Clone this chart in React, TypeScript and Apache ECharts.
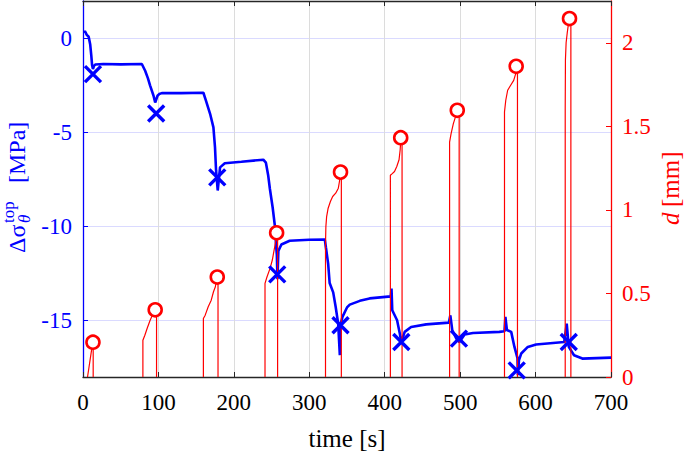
import React, { useEffect, useRef } from 'react';
import * as echarts from 'echarts';

const FONT = 'Liberation Serif, Times New Roman, serif';
const BLUE = '#0000ff';
const RED = '#ff0000';
const DARK = '#262626';

// time [s] ticks
const xTicks = [0, 100, 200, 300, 400, 500, 600, 700];

// Blue curve: stress change (MPa)
const blueT = [1.5, 2.5, 5, 7.5, 9.5, 11, 12, 13.2, 14.5, 16.5, 27, 50, 78, 82.4, 86, 89, 93.5, 95.7, 98.8, 101, 104.5, 130, 159.6, 163, 168.5, 172.9, 175, 176.4, 178.6, 181.7, 188, 210, 239, 242.5, 245.6, 247.8, 251.4, 254.5, 255.8, 257, 257.8, 259, 263, 274, 300, 320.6, 322, 325, 327, 331.7, 335, 338.3, 340.5, 341.5, 344, 350, 353.7, 367, 380, 408, 409, 410, 416.4, 420, 422, 426.5, 435, 455, 485, 487, 489.6, 495, 499, 505.9, 517, 552, 558.8, 560, 562, 567.7, 572, 576, 576.5, 578, 581, 589.7, 600.7, 638, 641.3, 644, 651, 662, 700];
const blueV = [0.3, 0.4, 0.2, 0.1, -0.3, -0.9, -1.4, -1.62, -1.45, -1.38, -1.35, -1.37, -1.35, -1.71, -2.1, -2.5, -3.04, -3.4, -3.04, -2.95, -2.9, -2.9, -2.88, -3.3, -4.0, -4.72, -5.78, -7.0, -8.08, -6.85, -6.63, -6.55, -6.44, -6.6, -7.3, -8.0, -8.97, -10.0, -10.9, -11.5, -12.8, -11.3, -10.95, -10.75, -10.7, -10.69, -11.1, -11.97, -13.0, -13.5, -14.28, -15.16, -16.84, -15.2, -14.8, -14.3, -14.15, -13.95, -13.82, -13.71, -13.3, -14.45, -14.98, -15.69, -16.14, -15.6, -15.34, -15.2, -15.11, -14.72, -15.52, -15.96, -16.14, -15.74, -15.66, -15.6, -15.57, -14.8, -15.5, -15.6, -16.4, -17.0, -17.9, -17.1, -16.75, -16.4, -16.27, -16.14, -15.16, -16.4, -16.84, -17.02, -16.97];

// Blue crosses
const crossT = [13.2, 97, 178, 257.5, 341.4, 422, 498.4, 575, 644];
const crossV = [-1.89, -3.98, -7.38, -12.54, -15.25, -16.14, -15.96, -17.65, -16.14];

// Red pulses: displacement d (mm); null separates pulses
const redT = [
  6, 8, 10, 12, 13.5, 13.5, null,
  79.4, 79.4, 82, 85, 89, 92, 96, 97.5, 97.5, null,
  159.6, 159.6, 162, 166, 170, 173, 175.5, 177.5, 179, 179, null,
  241.3, 241.3, 244, 248, 251, 253, 255, 257, 258, 258, null,
  321.5, 321.5, 322, 323, 325, 328, 331, 335, 338.5, 340, 341.5, 342.5, 342.5, null,
  407.5, 407.5, 410, 413, 416, 419, 420.5, 421.5, 423, 423, null,
  486, 486, 488, 491, 494, 496.5, 498.7, 498.7, null,
  558.8, 558.8, 560.5, 563, 567, 571, 574, 575, 576, 576, null,
  639.3, 639.3, 639.6, 640.5, 642, 643.5, 645, 646.8, 646.8
];
const redD = [
  0, 0.06, 0.12, 0.18, 0.21, 0, null,
  0, 0.22, 0.25, 0.29, 0.34, 0.37, 0.4, 0.4, 0, null,
  0, 0.35, 0.37, 0.42, 0.46, 0.51, 0.54, 0.6, 0.6, 0, null,
  0, 0.56, 0.6, 0.65, 0.7, 0.75, 0.8, 0.86, 0.86, 0, null,
  0, 0.8, 0.9, 0.96, 1.01, 1.05, 1.08, 1.1, 1.13, 1.17, 1.226, 1.226, 0, null,
  0, 1.207, 1.217, 1.23, 1.26, 1.3, 1.36, 1.432, 1.432, 0, null,
  0, 1.406, 1.456, 1.516, 1.56, 1.596, 1.596, 0, null,
  0, 1.586, 1.656, 1.716, 1.746, 1.775, 1.82, 1.859, 1.859, 0, null,
  0, 1.6, 1.9, 2.0, 2.06, 2.11, 2.145, 2.145, 0
];

// Red circles
const circleT = [13.2, 95.7, 178, 256.7, 341.4, 421.2, 496.2, 574.3, 645];
const circleD = [0.208, 0.402, 0.598, 0.863, 1.226, 1.432, 1.596, 1.859, 2.145];

export default function App() {
  const ref = useRef<HTMLDivElement>(null);
  useEffect(() => {
    if (!ref.current) return;
    const chart = echarts.init(ref.current, null, { renderer: 'svg' });
    const blueData = blueT.map((t, i) => [t, blueV[i]]);
    const redData = redT.map((t, i) => (t === null ? ['-', '-'] : [t, redD[i]]));
    const crossData = crossT.map((t, i) => [t, crossV[i]]);
    const circleData = circleT.map((t, i) => [t, circleD[i]]);
    const txt = (extra: any) => ({ fontFamily: FONT, ...extra });
    chart.setOption({
      animation: false,
      textStyle: { fontFamily: FONT },
      grid: { left: 83, right: 74, top: 1, bottom: 76, containLabel: false },
      xAxis: [
        {
          type: 'value', min: xTicks[0], max: xTicks[xTicks.length - 1], interval: 100, position: 'bottom',
          axisLine: { show: true, onZero: false, lineStyle: { color: DARK, width: 1.3 } },
          axisTick: { show: true, inside: true, length: 5, lineStyle: { color: DARK } },
          axisLabel: { color: '#000', fontSize: 23, fontFamily: FONT, margin: 14 },
          splitLine: { show: true, lineStyle: { color: '#dcdcdc', width: 1 } },
        },
        {
          type: 'value', min: xTicks[0], max: xTicks[xTicks.length - 1], interval: 100, position: 'top',
          axisLine: { show: true, onZero: false, lineStyle: { color: DARK, width: 1.3 } },
          axisTick: { show: true, inside: true, length: 5, lineStyle: { color: DARK } },
          axisLabel: { show: false },
          splitLine: { show: false },
        },
      ],
      yAxis: [
        {
          type: 'value', min: -18, max: 2, splitNumber: 4, position: 'left',
          axisLine: { show: true, onZero: false, lineStyle: { color: BLUE, width: 1.3 } },
          axisTick: { show: true, inside: true, length: 5, lineStyle: { color: BLUE } },
          axisLabel: { color: BLUE, fontSize: 23, fontFamily: FONT, margin: 11, showMinLabel: false, showMaxLabel: false },
          splitLine: { show: true, lineStyle: { color: '#dadaff', width: 1 } },
        },
        {
          type: 'value', min: 0, max: 2.25, interval: 0.5, position: 'right',
          axisLine: { show: true, onZero: false, lineStyle: { color: RED, width: 1.3 } },
          axisTick: { show: true, inside: true, length: 5, lineStyle: { color: RED } },
          axisLabel: { color: RED, fontSize: 23, fontFamily: FONT, margin: 11, showMaxLabel: false },
          splitLine: { show: false },
        },
      ],
      series: [
        {
          type: 'line', xAxisIndex: 0, yAxisIndex: 0, data: blueData, symbol: 'none', showSymbol: false,
          lineStyle: { color: BLUE, width: 2.6 }, z: 2,
        },
        {
          type: 'line', xAxisIndex: 0, yAxisIndex: 1, data: redData, symbol: 'none', showSymbol: false,
          connectNulls: false, lineStyle: { color: RED, width: 1.2 }, z: 3,
        },
        {
          type: 'scatter', xAxisIndex: 0, yAxisIndex: 1, data: circleData, symbol: 'circle', symbolSize: 13,
          itemStyle: { color: '#ffffff', borderColor: RED, borderWidth: 2.6, opacity: 1 }, z: 4,
        },
        {
          type: 'scatter', xAxisIndex: 0, yAxisIndex: 0, data: crossData,
          symbol: 'path://M0 0 L10 10 M10 0 L0 10', symbolSize: 16,
          itemStyle: { color: 'rgba(0,0,0,0)', borderColor: BLUE, borderWidth: 3.4, opacity: 1 }, z: 5,
        },
      ],
      graphic: [
        {
          type: 'text', x: 347, y: 438,
          style: txt({ text: 'time [s]', fontSize: 25, fill: '#000', align: 'center', verticalAlign: 'middle', textAlign: 'center', textVerticalAlign: 'middle' }),
        },
        {
          type: 'group', x: 16.5, y: 253, rotation: Math.PI / 2,
          children: [
            { type: 'text', x: 0, y: 0, style: txt({ text: 'Δσ', fontSize: 24, fill: BLUE, align: 'left', verticalAlign: 'middle', textAlign: 'left', textVerticalAlign: 'middle' }) },
            { type: 'text', x: 30, y: 8, style: txt({ text: 'θ', fontSize: 17, fontStyle: 'italic', fill: BLUE, align: 'left', verticalAlign: 'middle', textAlign: 'left', textVerticalAlign: 'middle' }) },
            { type: 'text', x: 30, y: -8, style: txt({ text: 'top', fontSize: 17, fill: BLUE, align: 'left', verticalAlign: 'middle', textAlign: 'left', textVerticalAlign: 'middle' }) },
            { type: 'text', x: 70, y: 0, style: txt({ text: '[MPa]', fontSize: 24, fill: BLUE, align: 'left', verticalAlign: 'middle', textAlign: 'left', textVerticalAlign: 'middle' }) },
          ],
        },
        {
          type: 'group', x: 670, y: 225, rotation: Math.PI / 2,
          children: [
            { type: 'text', x: 0, y: 0, style: txt({ text: 'd', fontSize: 25, fontStyle: 'italic', fill: RED, align: 'left', verticalAlign: 'middle', textAlign: 'left', textVerticalAlign: 'middle' }) },
            { type: 'text', x: 18, y: 0, style: txt({ text: '[mm]', fontSize: 25, fill: RED, align: 'left', verticalAlign: 'middle', textAlign: 'left', textVerticalAlign: 'middle' }) },
          ],
        },
      ],
    });
    return () => chart.dispose();
  }, []);
  return <div ref={ref} style={{ width: 685, height: 453, position: 'absolute', left: 0, top: 0 }} />;
}
